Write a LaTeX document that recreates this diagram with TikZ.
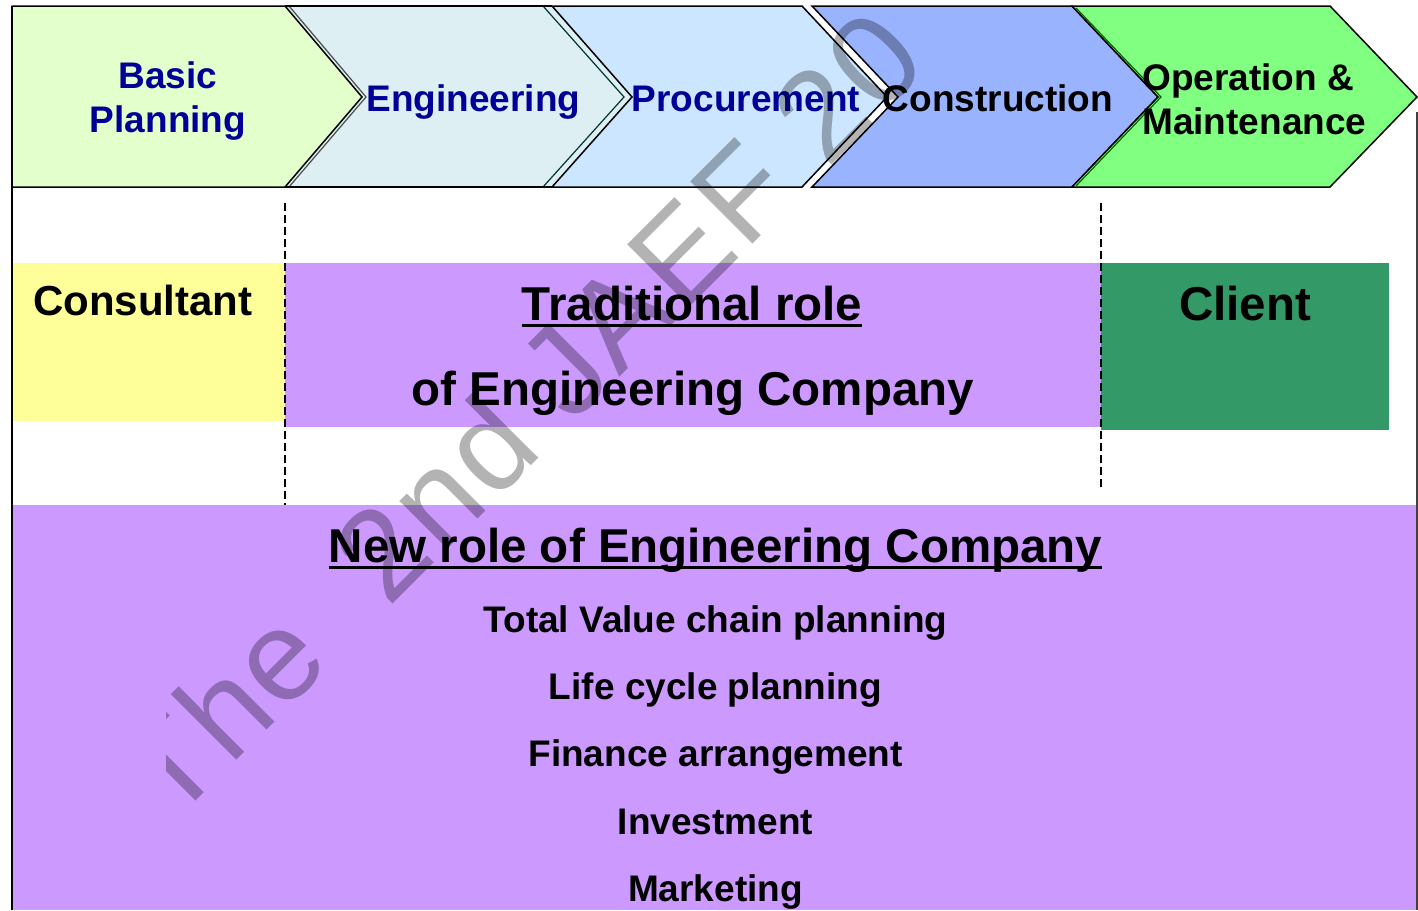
\documentclass[tikz,border=0pt]{standalone}
\usepackage{fontspec}
\setmainfont{Liberation Sans}
\newfontfamily\markfont[LetterSpace=2.6]{Liberation Sans}
\usetikzlibrary{positioning}
\definecolor{planfill}{HTML}{E3FFCC}
\definecolor{engfill}{HTML}{DDEFF2}
\definecolor{procfill}{HTML}{CCE6FF}
\definecolor{consfill}{HTML}{99B3FF}
\definecolor{opfill}{HTML}{80FF80}
\definecolor{stageblue}{HTML}{000099}
\definecolor{consultfill}{HTML}{FFFF99}
\definecolor{rolefill}{HTML}{CC99FF}
\definecolor{clientfill}{HTML}{339966}
\definecolor{markgray}{HTML}{B3B3B3}
\tikzstyle{chevron}=[draw=black,line width=1.5pt,line join=miter]
\tikzstyle{stage}=[inner sep=0pt,font=\bfseries\fontsize{37}{44}\selectfont]
\tikzstyle{rolehead}=[inner sep=0pt,anchor=base,font=\bfseries\fontsize{47.5}{56}\selectfont]
\tikzstyle{duty}=[inner sep=0pt,anchor=base,text height=27pt,text depth=8pt,font=\bfseries\fontsize{37}{44}\selectfont]
\tikzstyle{divider}=[line width=2pt,dash pattern=on 8pt off 4pt]
\tikzstyle{headline}=[line width=3pt]

\begin{document}
\begin{tikzpicture}[x=1pt,y=-1pt]
    \clip (0,0) rectangle (1418,910);
    % value chain
    \fill[engfill] (285,6) -- (552,6) -- (632,97) -- (552,187) -- (285,187) -- (362,97) -- cycle;
    \draw[black!60!teal,line width=1.2pt] (543,6) -- (624,97) -- (543,187);
    \draw[chevron,fill=procfill] (552,6) -- (802,6) -- (887,97) -- (802,187) -- (552,187) -- (632,97) -- cycle;
    \draw[black!70,line width=1.2pt] (289,6) -- (366,97) -- (289,187);
    \draw[chevron,fill=planfill] (12,6) -- (285,6) -- (362,97) -- (285,187) -- (12,187) -- cycle;
    \draw[chevron,fill=consfill] (812,6) -- (1072,6) -- (1158,97) -- (1072,187) -- (812,187) -- (898,97) -- cycle;
    \draw[chevron,fill=opfill] (1072,6) -- (1330,6) -- (1417,97) -- (1330,187) -- (1072,187) -- (1158,97) -- cycle;
    \draw[green!40!black,line width=1.2pt] (1076,8) -- (1161,97) -- (1076,186);
    \draw[chevron] (285,187) -- (552,187);
    \draw[chevron] (285,6) -- (552,6);
    % roles
    \fill[consultfill] (12,263) rectangle (285,421);
    \fill[rolefill] (285,263) rectangle (1101,427);
    \fill[clientfill] (1101,263) rectangle (1389,430);
    \fill[rolefill] (12,505) rectangle (1418,910);
    \draw[divider] (285,203) -- (285,505);
    \draw[divider] (1101,203) -- (1101,490);
    \draw[line width=1.5pt] (12,6) -- (12,910);
    \draw[black!75,line width=1.5pt] (1417,112) -- (1417,910);

    \node[stage,text=stageblue,align=center] (plan) at (168,101.5) {Basic\\Planning};
    \node[stage,text=stageblue,anchor=base] (eng) at (473.5,111) {Engineering};
    \node[stage,text=stageblue,anchor=base] (proc) at (746,111) {Procurement};
    \node[stage,anchor=base] (cons) at (998,111) {Construction};
    \node[stage,align=left,anchor=west] (oper) at (1142,99) {Operation \&\\Maintenance};

    \node[inner sep=0pt,anchor=base west,font=\bfseries\fontsize{42}{50}\selectfont] (consult) at (33,315) {Consultant};
    \node[rolehead] (trad) at (692,320) {Traditional role};
    \draw[headline] ([yshift=-5pt]trad.base west) -- ([yshift=-5pt]trad.base east);
    \node[rolehead] (tradsub) at (693,405) {of Engineering Company};
    \node[rolehead] (client) at (1245,320) {Client};

    \node[rolehead] (newrole) at (715.5,562) {New role of Engineering Company};
    \draw[headline] ([yshift=-5pt]newrole.base west) -- ([yshift=-5pt]newrole.base east);
    \node[duty] (total) at (715.5,632) {Total Value chain planning};
    \node[duty,below=32pt of total] (life) {Life cycle planning};
    \node[duty,below=32pt of life] (finance) {Finance arrangement};
    \node[duty,below=32pt of finance] (invest) {Investment};
    \node[duty,below=32pt of invest] (market) {Marketing};

    % watermark
    \begin{scope}[blend mode=multiply]
      \clip (166,0) rectangle (1418,910);
      \node[inner sep=0pt,anchor=base west,rotate=45,text=markgray,font=\markfont\fontsize{128}{128}\selectfont] (mark) at (172.4,824.6) {The \hspace{40pt}2nd JAEF 20};
    \end{scope}
\end{tikzpicture}
\end{document}
